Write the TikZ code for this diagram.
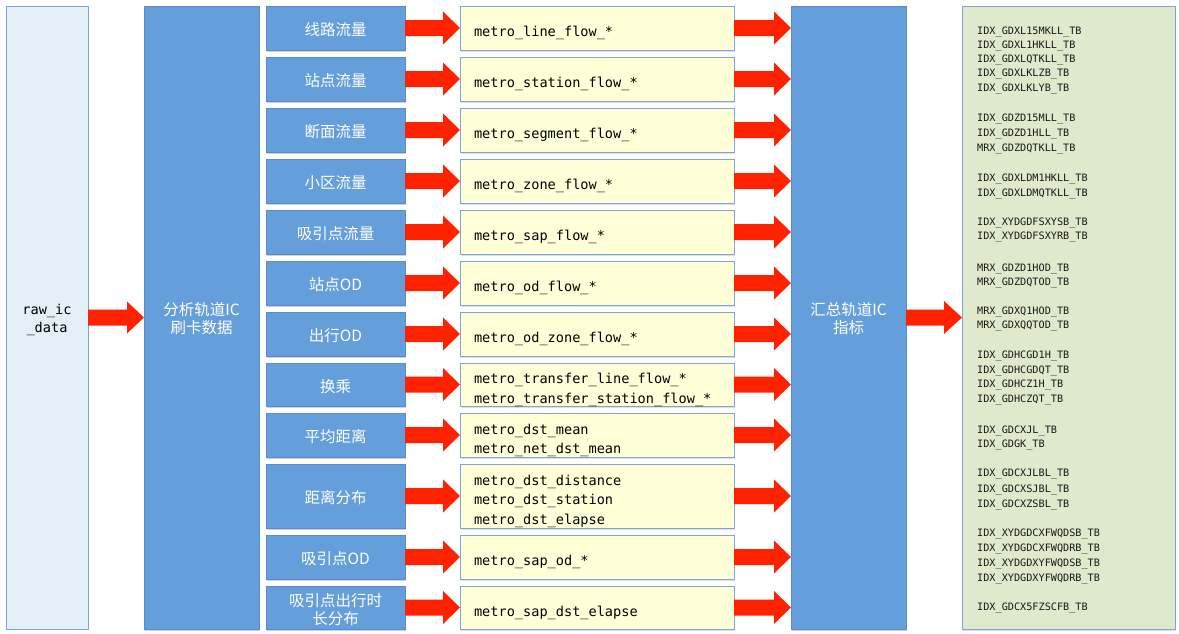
\documentclass[tikz,border=0pt]{standalone}
\usepackage{fontspec}
\newfontfamily\cjk{Noto Sans CJK SC}
\newfontfamily\monof{DejaVu Sans Mono}
\usetikzlibrary{calc,shadows}
\definecolor{boxblue}{RGB}{101,159,219}
\definecolor{boxblueline}{RGB}{92,140,200}
\definecolor{paleblue}{RGB}{227,240,248}
\definecolor{paleline}{RGB}{125,165,215}
\definecolor{paleyellow}{RGB}{255,255,216}
\definecolor{palegreen}{RGB}{223,233,203}
\definecolor{arrowred}{RGB}{255,34,0}
\newcommand\lowc[2]{\raisebox{-#1}[\height][\depth]{\begin{tabular}{@{}c@{}}#2\end{tabular}}}
\newcommand\lowl[2]{\raisebox{-#1}[\height][\depth]{\begin{tabular}{@{}l@{}}#2\end{tabular}}}
\tikzset{
  bluebox/.style={draw=boxblueline, fill=boxblue, line width=0.8pt, inner sep=0pt, outer sep=0pt,
    text=white, font={\cjk\fontsize{15.5}{18}\selectfont},
    drop shadow={shadow xshift=1.2pt, shadow yshift=-1.5pt, opacity=0.3, fill=black!60}},
  outbox/.style={draw=paleline, fill=paleyellow, line width=0.8pt, outer sep=0pt,
    inner xsep=14pt, inner ysep=0pt, text width=246pt, align=left,
    font={\monof\fontsize{13.6}{19.5}\selectfont},
    drop shadow={shadow xshift=1.2pt, shadow yshift=-1.5pt, opacity=0.2, fill=black!60}},
  idxtext/.style={anchor=west, inner sep=0pt, font={\monof\fontsize{10.2}{12}\selectfont}, text=black!90}
}
\newcommand\fatarrow[5]{% from, to, shaft half, head half, head length
  \fill[arrowred] ($(#1.east)+(0,#3)$) -- ($(#2.west |- #1.east)+(-#5,#3)$)
    -- ($(#2.west |- #1.east)+(-#5,#4)$) -- (#2.west |- #1.east)
    -- ($(#2.west |- #1.east)+(-#5,-#4)$) -- ($(#2.west |- #1.east)+(-#5,-#3)$)
    -- ($(#1.east)+(0,-#3)$) -- cycle;}
\begin{document}
\begin{tikzpicture}[x=1pt,y=-1pt]
\useasboundingbox (0,0) rectangle (1179,633);
% left raw box
\node[draw=paleline, fill=paleblue, line width=0.8pt, minimum width=82pt, minimum height=623pt,
  inner sep=0pt, outer sep=0pt, anchor=north west,
  font={\monof\fontsize{13.6}{18}\selectfont}] (raw) at (6,6) {\lowc{2pt}{raw\_ic\\\_data}};
% analysis box
\node[bluebox, minimum width=115pt, minimum height=623pt, anchor=north west] (ana) at (144,6) {\lowc{3pt}{分析轨道IC\\刷卡数据}};
% summary box
\node[bluebox, minimum width=115pt, minimum height=623pt, anchor=north west] (sum) at (791,6) {\lowc{3pt}{汇总轨道IC\\指标}};
% index box
\node[draw=paleline, fill=palegreen, line width=0.8pt, minimum width=213pt, minimum height=623pt,
  inner sep=0pt, outer sep=0pt, anchor=north west,
  drop shadow={shadow xshift=1.2pt, shadow yshift=-1.5pt, opacity=0.2, fill=black!60}] (idx) at (962,6) {};
% rows
\foreach \i/\y/\h/\lab/\met in {
  1/6/44/{线路流量}/{metro\_line\_flow\_*},
  2/57/44/{站点流量}/{metro\_station\_flow\_*},
  3/108/44/{断面流量}/{metro\_segment\_flow\_*},
  4/159/44/{小区流量}/{metro\_zone\_flow\_*},
  5/210/44/{吸引点流量}/{metro\_sap\_flow\_*},
  6/261/44/{站点OD}/{metro\_od\_flow\_*},
  7/312/44/{出行OD}/{metro\_od\_zone\_flow\_*},
  8/363/43/{换乘}/{metro\_transfer\_line\_flow\_*\\metro\_transfer\_station\_flow\_*},
  9/413/44/{平均距离}/{metro\_dst\_mean\\metro\_net\_dst\_mean},
  10/464/64/{距离分布}/{metro\_dst\_distance\\metro\_dst\_station\\metro\_dst\_elapse},
  11/535/44/{吸引点OD}/{metro\_sap\_od\_*},
  12/586/43/{吸引点出行时\\长分布}/{metro\_sap\_dst\_elapse}}{
  \node[bluebox, minimum width=139pt, minimum height=\h pt, anchor=north west] (c\i) at (266,\y) {\lowc{4pt}{\lab}};
  \node[outbox, minimum height=\h pt, anchor=north west] (m\i) at (460,\y) {\lowl{5pt}{\met}};
  \fatarrow{c\i}{m\i}{8}{16.5}{17}
  \fatarrow{m\i}{sum}{8}{16.5}{17}
}
% main arrows
\fatarrow{raw}{ana}{8}{16}{17}
\fatarrow{sum}{idx}{8}{16.5}{18}
% index texts
\foreach \y/\t [count=\k] in {
  30/IDX\_GDXL15MKLL\_TB, 44/IDX\_GDXL1HKLL\_TB, 58/IDX\_GDXLQTKLL\_TB, 72/IDX\_GDXLKLZB\_TB, 87/IDX\_GDXLKLYB\_TB,
  117/IDX\_GDZD15MLL\_TB, 132/IDX\_GDZD1HLL\_TB, 147/MRX\_GDZDQTKLL\_TB,
  177/IDX\_GDXLDM1HKLL\_TB, 192/IDX\_GDXLDMQTKLL\_TB,
  221/IDX\_XYDGDFSXYSB\_TB, 235/IDX\_XYDGDFSXYRB\_TB,
  267/MRX\_GDZD1HOD\_TB, 281/MRX\_GDZDQTOD\_TB,
  310/MRX\_GDXQ1HOD\_TB, 324/MRX\_GDXQQTOD\_TB,
  354/IDX\_GDHCGD1H\_TB, 369/IDX\_GDHCGDQT\_TB, 383/IDX\_GDHCZ1H\_TB, 398/IDX\_GDHCZQT\_TB,
  429/IDX\_GDCXJL\_TB, 443/IDX\_GDGK\_TB,
  472/IDX\_GDCXJLBL\_TB, 488/IDX\_GDCXSJBL\_TB, 503/IDX\_GDCXZSBL\_TB,
  532/IDX\_XYDGDCXFWQDSB\_TB, 547/IDX\_XYDGDCXFWQDRB\_TB, 562/IDX\_XYDGDXYFWQDSB\_TB, 577/IDX\_XYDGDXYFWQDRB\_TB,
  606/IDX\_GDCX5FZSCFB\_TB}{
  \node[idxtext] (t\k) at (977,\y+2) {\t};
}
\end{tikzpicture}
\end{document}
